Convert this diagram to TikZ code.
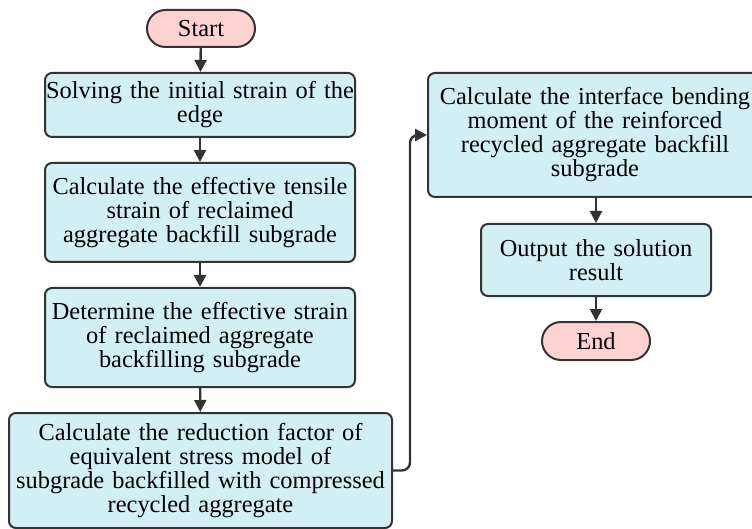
\documentclass[tikz,border=0pt]{standalone}
\usepackage{fontspec}
\setmainfont{Liberation Serif}
\usetikzlibrary{arrows.meta,shapes.misc}
\definecolor{boxfill}{HTML}{D2EFF4}
\definecolor{termfill}{HTML}{FFD2D2}
\definecolor{edge}{HTML}{333333}
\tikzset{
  procbox/.style={draw=edge, line width=2pt, fill=boxfill, rounded corners=7pt,
    inner sep=0pt, align=center, font=\rmfamily\fontsize{24.4}{24}\selectfont},
  termbox/.style={draw=edge, line width=2pt, fill=termfill, rounded rectangle,
    inner sep=0pt, align=center, font=\rmfamily\fontsize{24.4}{24}\selectfont},
  flow/.style={draw=edge, line width=2.4pt, -{Triangle[length=12pt,width=12pt]}}
}
\begin{document}
\begin{tikzpicture}[x=1pt,y=-1pt]
\useasboundingbox (0,0) rectangle (752,529);
\clip (0,0) rectangle (752,529);
\node[termbox, minimum width=108pt, minimum height=37pt] (start) at (201,28.5) {Start};
\node[procbox, minimum width=310pt, minimum height=64pt, text width=310pt] (b1) at (200,105) {Solving the initial strain of the\\edge};
\node[procbox, minimum width=310pt, minimum height=99pt, text width=310pt] (b2) at (200,212.5) {Calculate the effective tensile\\strain of reclaimed\\aggregate backfill subgrade};
\node[procbox, minimum width=310pt, minimum height=99pt, text width=310pt] (b3) at (200,337.5) {Determine the effective strain\\of reclaimed aggregate\\backfilling subgrade};
\node[procbox, minimum width=383pt, minimum height=115pt, text width=383pt] (b4) at (200.5,470.5) {Calculate the reduction factor of\\equivalent stress model of\\subgrade backfilled with compressed\\recycled aggregate};
\node[procbox, minimum width=334pt, minimum height=124pt, text width=334pt] (b5) at (595,135) {Calculate the interface bending\\moment of the reinforced\\recycled aggregate backfill\\subgrade};
\node[procbox, minimum width=230pt, minimum height=72pt, text width=230pt] (b6) at (596,260) {Output the solution\\result};
\node[termbox, minimum width=108pt, minimum height=38pt] (end) at (596,341) {End};
\coordinate (turn) at (410,470.5);
\draw[flow] (start) -- (b1);
\draw[flow] (b1) -- (b2);
\draw[flow] (b2) -- (b3);
\draw[flow] (b3) -- (b4);
\draw[flow, rounded corners=8pt] (b4.east) -- (turn) |- (b5.west);
\draw[flow] (b5.south -| b6) -- (b6);
\draw[flow] (b6) -- (end);
\end{tikzpicture}
\end{document}
